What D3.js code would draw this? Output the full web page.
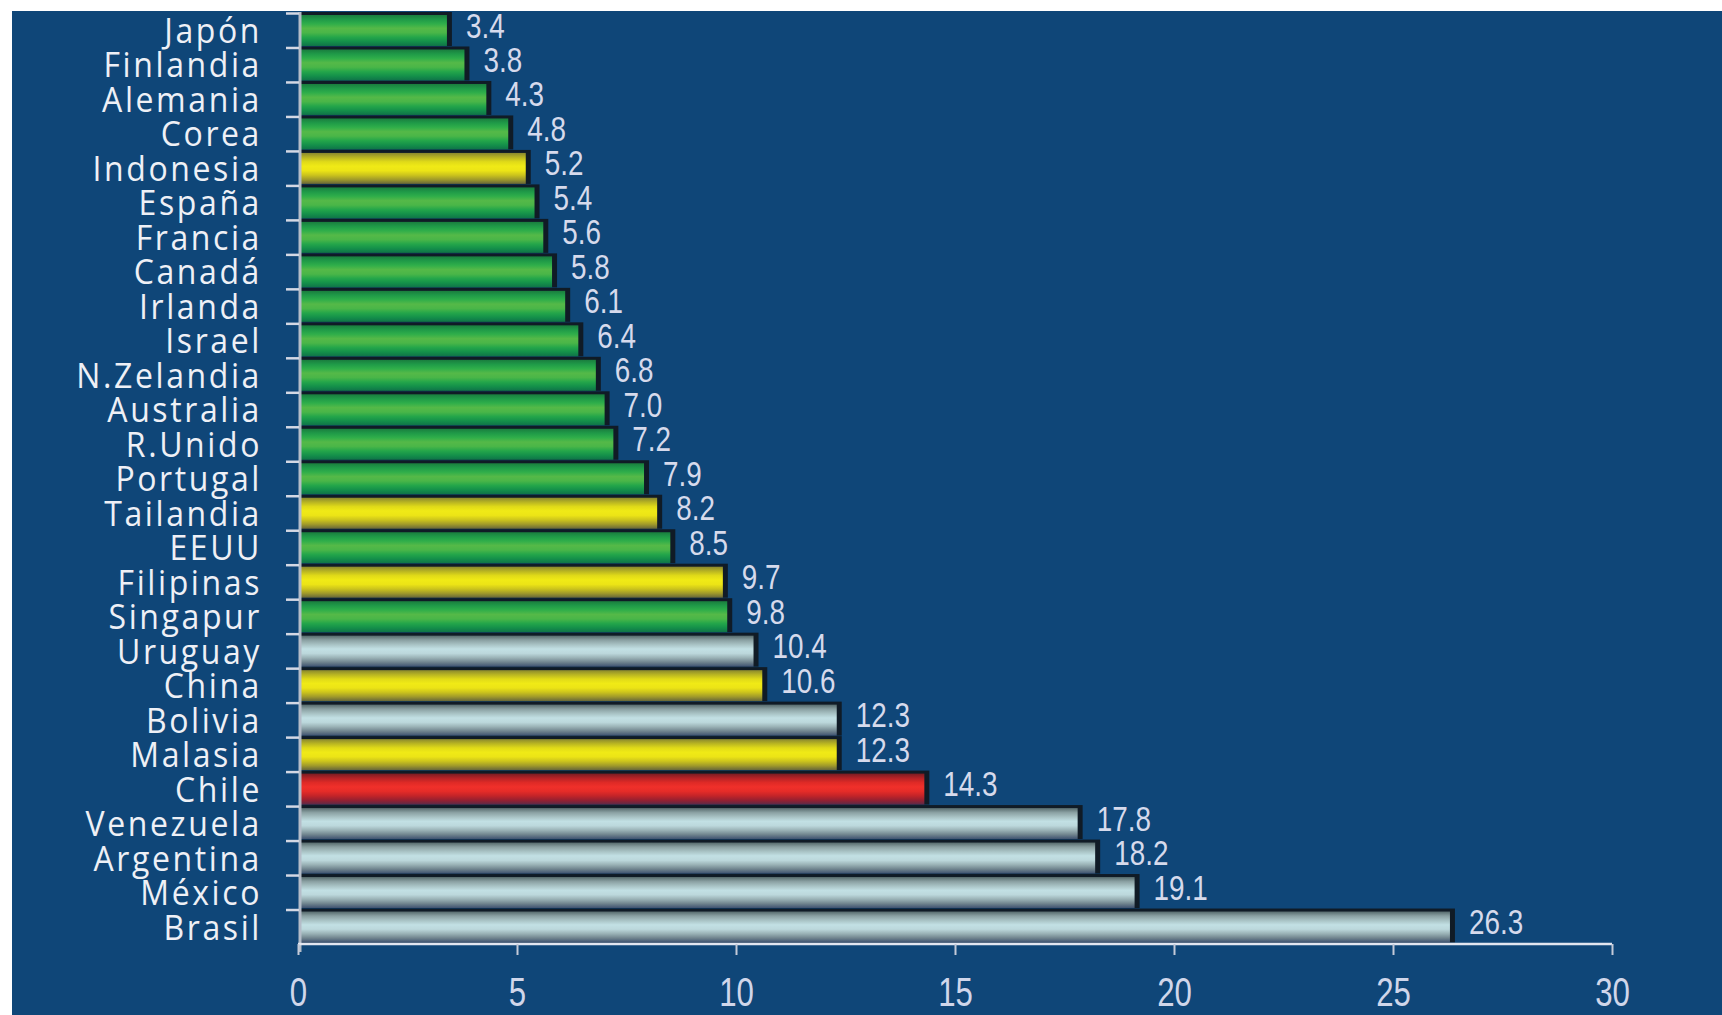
<!DOCTYPE html>
<html>
<head>
<meta charset="utf-8">
<script src="https://cdn.jsdelivr.net/npm/d3@7/dist/d3.min.js"></script>
<style>
  html, body { margin: 0; padding: 0; background: #ffffff; }
  svg { display: block; }
</style>
</head>
<body>
<svg id="chart" width="1722" height="1015"></svg>
<script>
// ---- data ----
const categories = ["Japón","Finlandia","Alemania","Corea","Indonesia","España","Francia","Canadá","Irlanda","Israel","N.Zelandia","Australia","R.Unido","Portugal","Tailandia","EEUU","Filipinas","Singapur","Uruguay","China","Bolivia","Malasia","Chile","Venezuela","Argentina","México","Brasil"];
const values = [3.4,3.8,4.3,4.8,5.2,5.4,5.6,5.8,6.1,6.4,6.8,7.0,7.2,7.9,8.2,8.5,9.7,9.8,10.4,10.6,12.3,12.3,14.3,17.8,18.2,19.1,26.3];
const groups = ["OCDE","OCDE","OCDE","OCDE","Asia","OCDE","OCDE","OCDE","OCDE","OCDE","OCDE","OCDE","OCDE","OCDE","Asia","OCDE","Asia","OCDE","AL","Asia","AL","Asia","Chile","AL","AL","AL","AL"];
const xTicks = [0,5,10,15,20,25,30];

// ---- styles ----
const gradStops = {
  OCDE:  ["#1a7d3e","#1f9a48","#2fae4a","#55b948","#4ab648","#24a64a","#14904a","#0f7348"],
  Asia:  ["#8a882e","#b8b422","#e0da18","#f0ea16","#ece416","#ccc41c","#a09a2a","#66663a"],
  AL:    ["#566a6c","#8aa0a2","#a8c2c4","#c2e0e4","#bcd8dc","#9ab2b6","#70848e","#3e5270"],
  Chile: ["#781c22","#b42226","#de2a26","#f0302a","#e62c28","#c42428","#962030","#5a2a48"]
};

const svg = d3.select("#chart");
const W = 1722, H = 1015;

// background
svg.append("rect").attr("x",0).attr("y",0).attr("width",W).attr("height",H).attr("fill","#ffffff");
svg.append("rect").attr("x",12).attr("y",11).attr("width",W-12).attr("height",H-11).attr("fill","#0f4678");

const defs = svg.append("defs");
Object.entries(gradStops).forEach(([k, stops]) => {
  const g = defs.append("linearGradient").attr("id","grad-"+k)
    .attr("x1",0).attr("y1",0).attr("x2",0).attr("y2",1);
  stops.forEach((c,i) => g.append("stop").attr("offset", (i/(stops.length-1))).attr("stop-color", c));
});

const x = d3.scaleLinear().domain([0,30]).range([298,1612]);
const y = d3.scaleBand().domain(categories).range([12,943]).paddingInner(0).paddingOuter(0);
const bw = y.bandwidth();

const data = categories.map((c,i) => ({cat:c, v:values[i], g:groups[i]}));

// shadows (dark outline on top / right)
svg.append("g").selectAll("rect").data(data).join("rect")
  .attr("x", x(0)+1)
  .attr("y", d => y(d.cat))
  .attr("width", d => x(d.v) - x(0) + 4)
  .attr("height", bw - 0.5)
  .attr("fill", "#101820")
  .attr("opacity", 0.92);

// bars
svg.append("g").selectAll("rect").data(data).join("rect")
  .attr("x", x(0)+2)
  .attr("y", d => y(d.cat) + 3)
  .attr("width", d => x(d.v) - x(0) - 2)
  .attr("height", bw - 3.5)
  .attr("fill", d => "url(#grad-" + d.g + ")");

// y axis line
svg.append("line").attr("x1",x(0)+2).attr("x2",x(0)+2).attr("y1",12).attr("y2",952)
  .attr("stroke","#b4bcc8").attr("stroke-width",3);

// y axis ticks at band boundaries
svg.append("g").selectAll("line").data(categories).join("line")
  .attr("x1", 286).attr("x2", x(0)+1)
  .attr("y1", d => y(d)+1.5).attr("y2", d => y(d)+1.5)
  .attr("stroke","#d4d8e4").attr("stroke-width",2.5);

// category labels
svg.append("g").selectAll("text").data(data).join("text")
  .attr("transform", d => `translate(262,${y(d.cat) + 31}) scale(1,1.08)`)
  .attr("text-anchor","end")
  .attr("font-family","'Open Sans', 'DejaVu Sans', sans-serif")
  .attr("font-size", 32)
  .attr("letter-spacing", "2.6px")
  .attr("fill","#eef0f6")
  .text(d => d.cat);

// value labels
svg.append("g").selectAll("text").data(data).join("text")
  .attr("transform", d => `translate(${x(d.v)+19},${y(d.cat)+25.5}) scale(0.82,1.05)`)
  .attr("font-family","'Liberation Sans', Arial, sans-serif")
  .attr("font-size", 34)
  .attr("fill","#d6daec")
  .text(d => d.v.toFixed(1));

// x axis
const xAxis = d3.axisBottom(x).tickValues(xTicks).tickSize(11).tickPadding(0).tickFormat(d3.format("d"));
const gx = svg.append("g").attr("transform","translate(0,944)").call(xAxis);
gx.select(".domain").attr("stroke","#e2e6f0").attr("stroke-width",2.5).attr("d", `M${x(0)},0H${x(30)}`);
gx.selectAll(".tick line").attr("stroke","#c4cad8").attr("stroke-width",2);
gx.selectAll(".tick text")
  .attr("y", 0).attr("dy", 0)
  .attr("transform","translate(0,62) scale(0.78,1)")
  .attr("font-family","'Liberation Sans', Arial, sans-serif")
  .attr("font-size", 40)
  .attr("fill","#d0d6ea");
</script>
</body>
</html>
